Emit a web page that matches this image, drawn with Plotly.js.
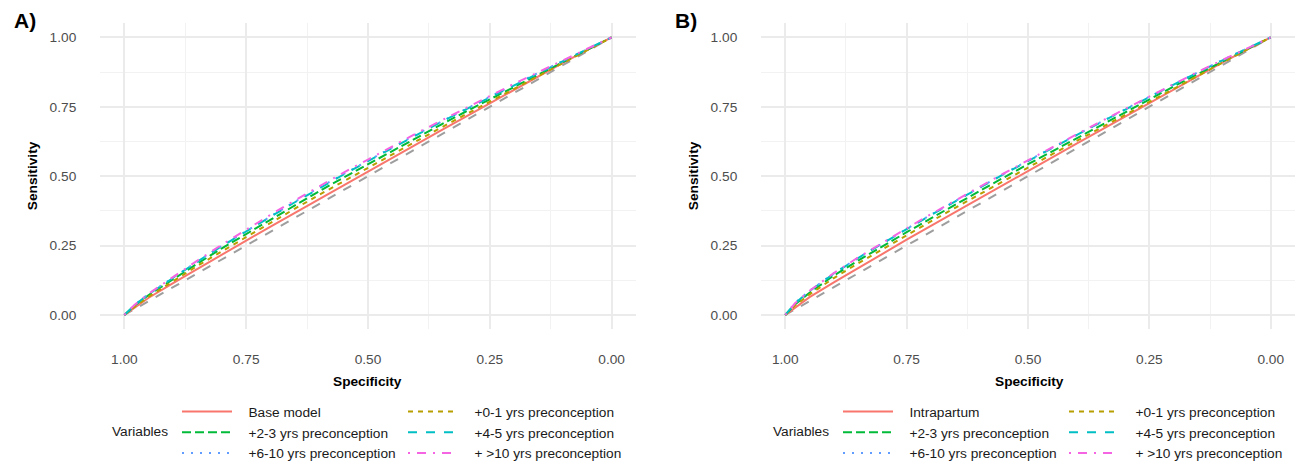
<!DOCTYPE html>
<html>
<head>
<meta charset="utf-8">
<script src="https://cdn.plot.ly/plotly-3.0.1.min.js"></script>
<style>html,body{margin:0;padding:0;background:#fff;}</style>
</head>
<body>
<div id="chart" style="width:1297px;height:469px;"></div>
<script>
// ---------- data ----------
const specificity = [1.00, 0.98, 0.95, 0.90, 0.85, 0.80, 0.75, 0.70, 0.65, 0.60, 0.55, 0.50, 0.45, 0.40, 0.35, 0.30, 0.25, 0.20, 0.15, 0.10, 0.05, 0.00];

// Panel A
const sensA_base   = [0, 0.025, 0.062, 0.115, 0.167, 0.218, 0.268, 0.318, 0.368, 0.418, 0.468, 0.517, 0.566, 0.616, 0.665, 0.714, 0.763, 0.812, 0.861, 0.908, 0.955, 1.0];
const sensA_y0_1   = [0, 0.028, 0.066, 0.122, 0.177, 0.229, 0.281, 0.333, 0.383, 0.433, 0.482, 0.531, 0.580, 0.628, 0.675, 0.722, 0.768, 0.815, 0.862, 0.909, 0.955, 1.0];
const sensA_y2_3   = [0, 0.032, 0.072, 0.130, 0.185, 0.240, 0.292, 0.344, 0.395, 0.446, 0.495, 0.543, 0.592, 0.640, 0.686, 0.732, 0.777, 0.822, 0.867, 0.912, 0.956, 1.0];
const sensA_y4_5   = [0, 0.034, 0.075, 0.135, 0.192, 0.248, 0.302, 0.354, 0.406, 0.457, 0.506, 0.554, 0.602, 0.649, 0.695, 0.740, 0.784, 0.828, 0.871, 0.915, 0.958, 1.0];
const sensA_y6_10  = [0, 0.035, 0.076, 0.136, 0.193, 0.249, 0.303, 0.356, 0.408, 0.459, 0.508, 0.556, 0.604, 0.651, 0.697, 0.742, 0.786, 0.830, 0.873, 0.916, 0.958, 1.0];
const sensA_y10p   = [0, 0.035, 0.077, 0.138, 0.196, 0.253, 0.308, 0.361, 0.413, 0.464, 0.513, 0.560, 0.608, 0.655, 0.700, 0.745, 0.789, 0.833, 0.875, 0.918, 0.959, 1.0];

// Panel B
const sensB_intra  = [0, 0.026, 0.064, 0.117, 0.169, 0.221, 0.271, 0.321, 0.371, 0.421, 0.470, 0.519, 0.568, 0.617, 0.666, 0.715, 0.764, 0.813, 0.861, 0.909, 0.955, 1.0];
const sensB_y0_1   = [0, 0.034, 0.074, 0.133, 0.186, 0.237, 0.287, 0.337, 0.386, 0.435, 0.483, 0.531, 0.579, 0.627, 0.674, 0.721, 0.768, 0.815, 0.862, 0.909, 0.955, 1.0];
const sensB_y2_3   = [0, 0.038, 0.080, 0.142, 0.196, 0.248, 0.298, 0.348, 0.398, 0.447, 0.495, 0.543, 0.590, 0.638, 0.684, 0.731, 0.777, 0.823, 0.868, 0.913, 0.957, 1.0];
const sensB_y4_5   = [0, 0.042, 0.086, 0.149, 0.205, 0.258, 0.309, 0.360, 0.410, 0.459, 0.507, 0.554, 0.602, 0.648, 0.694, 0.740, 0.785, 0.830, 0.874, 0.917, 0.959, 1.0];
const sensB_y6_10  = [0, 0.043, 0.087, 0.150, 0.206, 0.259, 0.310, 0.361, 0.411, 0.460, 0.508, 0.556, 0.603, 0.650, 0.696, 0.741, 0.786, 0.831, 0.875, 0.918, 0.959, 1.0];
const sensB_y10p   = [0, 0.042, 0.087, 0.151, 0.207, 0.261, 0.312, 0.363, 0.413, 0.462, 0.510, 0.557, 0.604, 0.651, 0.697, 0.742, 0.787, 0.832, 0.876, 0.918, 0.960, 1.0];

// chance diagonal
const refSpec = [1, 0];
const refSens = [0, 1];

const namesA = ["Base model", "+0-1 yrs preconception", "+2-3 yrs preconception", "+4-5 yrs preconception", "+6-10 yrs preconception", "+ >10 yrs preconception"];
const namesB = ["Intrapartum", "+0-1 yrs preconception", "+2-3 yrs preconception", "+4-5 yrs preconception", "+6-10 yrs preconception", "+ >10 yrs preconception"];
const tickVals = [0, 0.25, 0.5, 0.75, 1];
const tickText = ["0.00", "0.25", "0.50", "0.75", "1.00"];
const minorVals = [0.125, 0.375, 0.625, 0.875];

// ---------- styling ----------
const colors = ["#F8766D", "#B79F00", "#00BA38", "#00BFC4", "#619CFF", "#F564E3"];
const dashes = ["solid", "5px,5px", "9px,4px", "9px,9px", "2px,7px", "2px,7px,9px,7px"];
const FONT = "Liberation Sans, Arial, sans-serif";
const W = 1297, H = 469;
const px = v => v / W;
const py = v => 1 - v / H;
const GAP = "\u00a0\u00a0\u00a0"; // spacing between legend key and label

const seriesA = [sensA_base, sensA_y0_1, sensA_y2_3, sensA_y4_5, sensA_y6_10, sensA_y10p];
const seriesB = [sensB_intra, sensB_y0_1, sensB_y2_3, sensB_y4_5, sensB_y6_10, sensB_y10p];
// legend columns: items 0,2,4 in first column; 1,3,5 in second
const legA = ["legend", "legend2", "legend", "legend2", "legend", "legend2"];
const legB = ["legend3", "legend4", "legend3", "legend4", "legend3", "legend4"];

const traces = [];
traces.push({x: refSpec, y: refSens, xaxis: "x", yaxis: "y", mode: "lines", showlegend: false, hoverinfo: "skip",
  line: {color: "#9e9e9e", width: 2, dash: "9px,9px"}});
traces.push({x: refSpec, y: refSens, xaxis: "x2", yaxis: "y2", mode: "lines", showlegend: false, hoverinfo: "skip",
  line: {color: "#9e9e9e", width: 2, dash: "9px,9px"}});

const orderIdx = [0, 2, 4, 1, 3, 5];
orderIdx.forEach(i => {
  traces.push({x: specificity, y: seriesA[i], xaxis: "x", yaxis: "y", mode: "lines", name: GAP + namesA[i],
    legend: legA[i], line: {color: colors[i], width: 2, dash: dashes[i]}});
});
orderIdx.forEach(i => {
  traces.push({x: specificity, y: seriesB[i], xaxis: "x2", yaxis: "y2", mode: "lines", name: GAP + namesB[i],
    legend: legB[i], line: {color: colors[i], width: 2, dash: dashes[i]}});
});

function xAxis(domain) {
  return {
    domain: domain, range: [1.05, -0.05], tickmode: "array", tickvals: tickVals, ticktext: tickText,
    showgrid: true, gridcolor: "#ebebeb", gridwidth: 2, zeroline: false, showline: false,
    ticks: "outside", ticklen: 18, tickcolor: "rgba(0,0,0,0)",
    tickfont: {family: FONT, size: 13.7, color: "#4d4d4d"},
    minor: {tickvals: minorVals, showgrid: true, gridcolor: "#f2f2f2", gridwidth: 1, ticks: ""},
    automargin: false, fixedrange: true
  };
}
function yAxis(anchor) {
  return {
    domain: [py(336), py(24)], range: [-0.05, 1.05], anchor: anchor, tickmode: "array", tickvals: tickVals, ticktext: tickText,
    showgrid: true, gridcolor: "#ebebeb", gridwidth: 2, zeroline: false, showline: false,
    ticks: "outside", ticklen: 20, tickcolor: "rgba(0,0,0,0)",
    tickfont: {family: FONT, size: 13.7, color: "#4d4d4d"},
    minor: {tickvals: minorVals, showgrid: true, gridcolor: "#f2f2f2", gridwidth: 1, ticks: ""},
    automargin: false, fixedrange: true
  };
}
function legendAt(xpx) {
  return {x: px(xpx), y: py(405), xanchor: "left", yanchor: "top", orientation: "v",
    bgcolor: "rgba(0,0,0,0)", borderwidth: 0, itemwidth: 50, tracegroupgap: 0,
    font: {family: FONT, size: 13.7, color: "#1a1a1a"}, itemclick: false, itemdoubleclick: false};
}

const ann = [];
function addPanelText(label, dx) {
  ann.push({text: "<b>" + label + "</b>", x: px(12 + dx), y: py(21), xref: "paper", yref: "paper",
    xanchor: "left", yanchor: "middle", showarrow: false, font: {family: FONT, size: 21, color: "#000"}});
  ann.push({text: "<b>Sensitivity</b>", x: px(32 + dx), y: py(180), xref: "paper", yref: "paper", textangle: -90,
    xanchor: "center", yanchor: "middle", showarrow: false, font: {family: FONT, size: 13.7, color: "#000"}});
  ann.push({text: "<b>Specificity</b>", x: px(368 + dx), y: py(390), xref: "paper", yref: "paper",
    xanchor: "center", yanchor: "middle", showarrow: false, font: {family: FONT, size: 13.7, color: "#000"}});
  ann.push({text: "Variables", x: px(110 + dx), y: py(441), xref: "paper", yref: "paper",
    xanchor: "left", yanchor: "middle", showarrow: false, font: {family: FONT, size: 13.7, color: "#1a1a1a"}});
}
addPanelText("A)", 0);
addPanelText("B)", 661);

const layout = {
  width: W, height: H, autosize: false,
  margin: {l: 0, r: 0, t: 0, b: 0, pad: 0},
  paper_bgcolor: "#ffffff", plot_bgcolor: "#ffffff",
  showlegend: true,
  xaxis: xAxis([px(100), px(636)]),
  yaxis: yAxis("x"),
  xaxis2: xAxis([px(761), px(1295)]),
  yaxis2: yAxis("x2"),
  legend: legendAt(177),
  legend2: legendAt(403),
  legend3: legendAt(838),
  legend4: legendAt(1064),
  annotations: ann
};

Plotly.newPlot("chart", traces, layout, {displayModeBar: false, staticPlot: true});
</script>
</body>
</html>
